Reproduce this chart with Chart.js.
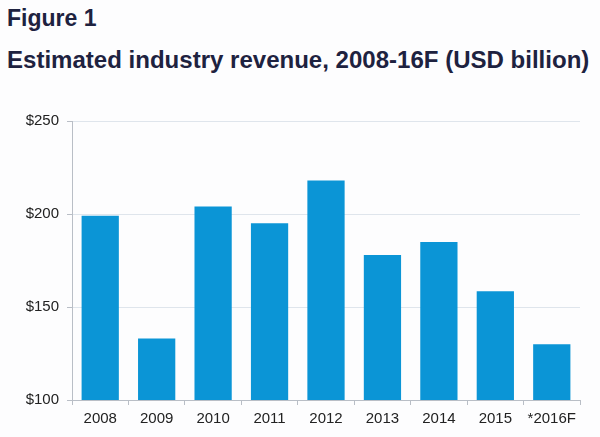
<!DOCTYPE html>
<html>
<head>
<meta charset="utf-8">
<script src="https://cdn.jsdelivr.net/npm/chart.js@4"></script>
<style>
    html, body { margin: 0; padding: 0; background: #fdfdfe; }
    body { width: 600px; height: 437px; position: relative; overflow: hidden; font-family: "Liberation Sans", Arial, sans-serif; }
    .fig { position: absolute; left: 7px; top: 7px; font-size: 23px; line-height: 1; font-weight: bold; color: #1e2240; }
    .titulo { position: absolute; left: 7px; top: 49px; font-size: 23px; line-height: 1; font-weight: bold; color: #1e2240; white-space: nowrap; transform: scaleX(1.045); transform-origin: left top; }
    .grafico { position: absolute; left: 0; top: 100px; width: 600px; height: 337px; }
</style>
</head>
<body>
<div class="fig">Figure 1</div>
<div class="titulo">Estimated industry revenue, 2008-16F (USD billion)</div>
<div class="grafico"><canvas id="grafico-receita"></canvas></div>

<script>
// dados
const anos = ['2008', '2009', '2010', '2011', '2012', '2013', '2014', '2015', '*2016F'];
const receita = [199, 133, 204, 195, 218, 178, 185, 158.5, 130];
const ticksY = [100, 150, 200, 250];

const corBarra = '#0b95d6';
const corGrade = '#dfe5ec';
const corEixo = '#b9bec6';

new Chart(document.getElementById('grafico-receita'), {
    type: 'bar',
    data: {
        labels: anos,
        datasets: [{
            data: receita,
            backgroundColor: corBarra,
            categoryPercentage: 1,
            barPercentage: 0.66
        }]
    },
    options: {
        responsive: true,
        maintainAspectRatio: false,
        animation: false,
        layout: { padding: { top: 21, right: 20, left: 0, bottom: 0 } },
        plugins: {
            legend: { display: false },
            tooltip: { enabled: false }
        },
        scales: {
            x: {
                offset: true,
                grid: { offset: true, drawOnChartArea: false, drawTicks: true, tickLength: 5, color: corEixo },
                border: { color: corEixo },
                ticks: { color: '#222', font: { family: 'Liberation Sans', size: 15 }, padding: 5 },
                afterFit: s => { s.height = 37; }
            },
            y: {
                min: ticksY[0],
                max: ticksY[ticksY.length - 1],
                afterBuildTicks: s => { s.ticks = ticksY.map(v => ({ value: v })); },
                grid: { color: corGrade, tickLength: 5, tickColor: corEixo },
                border: { color: corEixo },
                ticks: {
                    color: '#222',
                    font: { family: 'Liberation Sans', size: 15 },
                    padding: 8,
                    callback: v => '$' + v
                },
                afterFit: s => { s.width = 72; }
            }
        }
    }
});
</script>
</body>
</html>
